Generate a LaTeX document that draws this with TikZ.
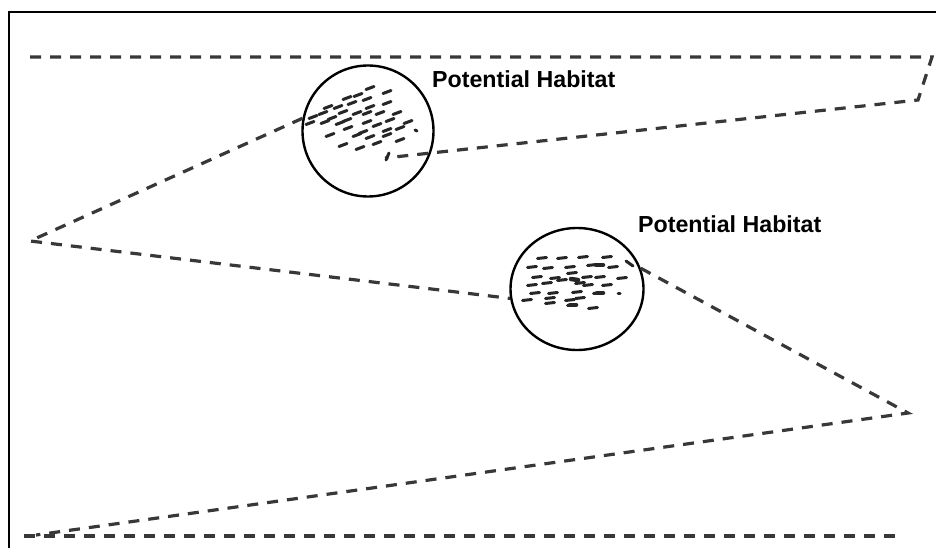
\documentclass[tikz,border=0pt]{standalone}
\usepackage{fontspec}
\setsansfont{Liberation Sans}
\usetikzlibrary{shapes.geometric}
\tikzset{
  trail/.style={line width=3.2pt,dash pattern=on 11pt off 9pt,black!78},
  habitat/.style={draw,line width=2.4pt,inner sep=0pt},
  fleck/.style={line width=3pt,black!85,line cap=round},
  habtext/.style={anchor=base west,inner sep=0pt,font=\sffamily\bfseries\fontsize{23.2}{27}\selectfont}
}
\begin{document}
\begin{tikzpicture}[x=1pt,y=-1pt]
\useasboundingbox (0,0) rectangle (936,548);
\draw[line width=2.4pt] (9,548) -- (9,12) -- (936,12);
\node[habitat,circle,minimum size=131pt] (habA) at (368,131) {};
\node[habitat,ellipse,minimum width=133pt,minimum height=122pt] (habB) at (577,289) {};
\node[habtext] (labA) at (432,88) {Potential Habitat};
\node[habtext] (labB) at (638,232) {Potential Habitat};
\coordinate (t0) at (30,57);
\coordinate (t1) at (932,57);
\coordinate (t2) at (918,100);
\coordinate (c1in) at (385,158);
\coordinate (w) at (30,241);
\coordinate (e) at (908,413);
\coordinate (sw) at (36,535);
\coordinate (b0) at (24,536);
\coordinate (b1) at (900,536);
\draw[trail] (t0) -- (t1) -- (t2) -- (c1in);
\draw[trail] (habA.169) -- (w) -- (habB.188);
\draw[trail] (habB.18) -- (e) -- (sw);
\draw[trail] (b0) -- (b1);
% flecks in the upper habitat
\foreach \x/\y in {370/88,387/92,358/95,367/99,347/98,387/103,352/103,338/107,328/107,
  370/107,397/113,380/113,367/113,357/113,343/112,323/113,313/117,332/118,347/120,
  367/122,390/120,408/122,310/123,325/122,340/123,377/125,348/128,363/132,387/130,
  400/128,330/135,357/135,370/137,387/135,400/140,343/145,360/148,377/143}
  \draw[fleck] (\x,\y) ++(-4,1.5) -- ++(8,-3);
\draw[fleck] (415,130) -- (417,131);
\draw[fleck] (386,160) -- (389,153);
% flecks in the lower habitat
\foreach \x/\y in {542/258,562/258,583/257,607/257,532/267,548/268,570/267,592/265,
  613/267,537/277,555/278,572/273,587/277,600/277,622/278,532/285,547/283,562/280,
  580/283,588/285,607/285,535/293,553/293,577/292,598/293,527/300,550/298,570/300,
  580/298,550/303,572/305,593/308}
  \draw[fleck] (\x,\y) ++(-4.5,0.5) -- ++(9,-1);
\draw[fleck] (626,261) -- (633,266);
\draw[fleck,line width=4.5pt] (571,279) -- (578,280);
\draw[fleck,line width=4.5pt] (596,265) -- (603,265);
\draw[fleck,line width=4.5pt] (597,293) -- (603,293);
\draw[fleck,line width=4.5pt] (570,305) -- (576,305);
\draw[fleck] (618,293) -- (620,293);
\end{tikzpicture}
\end{document}
